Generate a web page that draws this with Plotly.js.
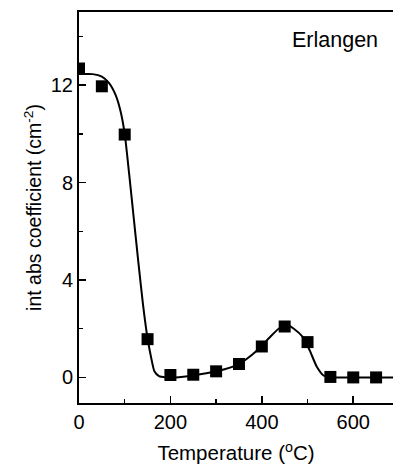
<!DOCTYPE html>
<html>
<head>
<meta charset="utf-8">
<script src="https://cdn.plot.ly/plotly-3.0.1.min.js"></script>
<style>
  html, body { margin: 0; padding: 0; background: #fff; }
  #chart { width: 393px; height: 466px; }
</style>
</head>
<body>
<div id="chart"></div>
<script>
// Measured annealing points: temperature (°C) vs integrated absorption coefficient
const temperature = [0, 50, 100, 150, 200, 250, 300, 350, 400, 450, 500, 550, 600, 650];
const absCoefficient = [12.68, 11.95, 9.97, 1.57, 0.1, 0.11, 0.25, 0.55, 1.27, 2.09, 1.45, 0.02, 0.0, 0.0];

// Guide-to-the-eye curve through the data
const curveT = [0, 30, 50, 65, 80, 90, 100, 110, 120, 130, 140, 150, 158, 165, 175, 190, 210, 250, 300, 350, 380, 400, 420, 440, 455, 470, 490, 505, 520, 535, 550, 600, 690];
const curveY = [12.45, 12.45, 12.35, 12.1, 11.6, 11.0, 10.0, 8.3, 6.5, 4.7, 3.0, 1.6, 0.8, 0.25, 0.05, 0.0, 0.0, 0.08, 0.25, 0.55, 0.95, 1.3, 1.7, 2.05, 2.15, 2.0, 1.65, 1.1, 0.45, 0.08, 0.0, 0.0, 0.0];

const xTickVals = [0, 200, 400, 600];
const yTickVals = [0, 4, 8, 12];
const sampleLabel = 'Erlangen';

const FONT = 'Liberation Sans, Arial, Helvetica, sans-serif';

const traces = [
  {
    x: curveT, y: curveY,
    type: 'scatter', mode: 'lines',
    line: { color: '#000', width: 2, shape: 'spline', smoothing: 0.6 },
    hoverinfo: 'skip', showlegend: false
  },
  {
    x: temperature, y: absCoefficient,
    type: 'scatter', mode: 'markers',
    marker: { symbol: 'square', size: 12, color: '#000' },
    showlegend: false
  }
];

const layout = {
  width: 393, height: 466,
  margin: { l: 79, r: 0, t: 12, b: 63 },
  paper_bgcolor: '#fff', plot_bgcolor: '#fff',
  font: { family: FONT, color: '#000', size: 20 },
  showlegend: false,
  xaxis: {
    range: [0, 687],
    tickvals: xTickVals,
    ticks: 'inside', ticklen: 7, tickwidth: 1.5, tickcolor: '#000',
    minor: { dtick: 100, ticks: 'inside', ticklen: 4, tickwidth: 1.5, tickcolor: '#000' },
    showline: true, linewidth: 2, linecolor: '#000', mirror: true,
    showgrid: false, zeroline: false,
    tickfont: { family: FONT, size: 20, color: '#000' },
    title: { text: 'Temperature (<sup>o</sup>C)', font: { family: FONT, size: 20.5, color: '#000' }, standoff: 14 }
  },
  yaxis: {
    range: [-1.05, 15],
    tickvals: yTickVals,
    ticks: 'inside', ticklen: 7, tickwidth: 1.5, tickcolor: '#000',
    minor: { dtick: 2, ticks: 'inside', ticklen: 4, tickwidth: 1.5, tickcolor: '#000' },
    showline: true, linewidth: 2, linecolor: '#000',
    showgrid: false, zeroline: false,
    tickfont: { family: FONT, size: 20, color: '#000' },
    title: { text: 'int abs coefficient (cm<sup>-2</sup>)', font: { family: FONT, size: 19.5, color: '#000' }, standoff: 4 }
  },
  annotations: [
    {
      text: sampleLabel, xref: 'paper', yref: 'paper',
      x: 0.958, y: 0.928, xanchor: 'right', yanchor: 'middle',
      showarrow: false, font: { family: FONT, size: 21.5, color: '#000' }
    }
  ]
};

Plotly.newPlot('chart', traces, layout, { staticPlot: true, displayModeBar: false });
</script>
</body>
</html>
